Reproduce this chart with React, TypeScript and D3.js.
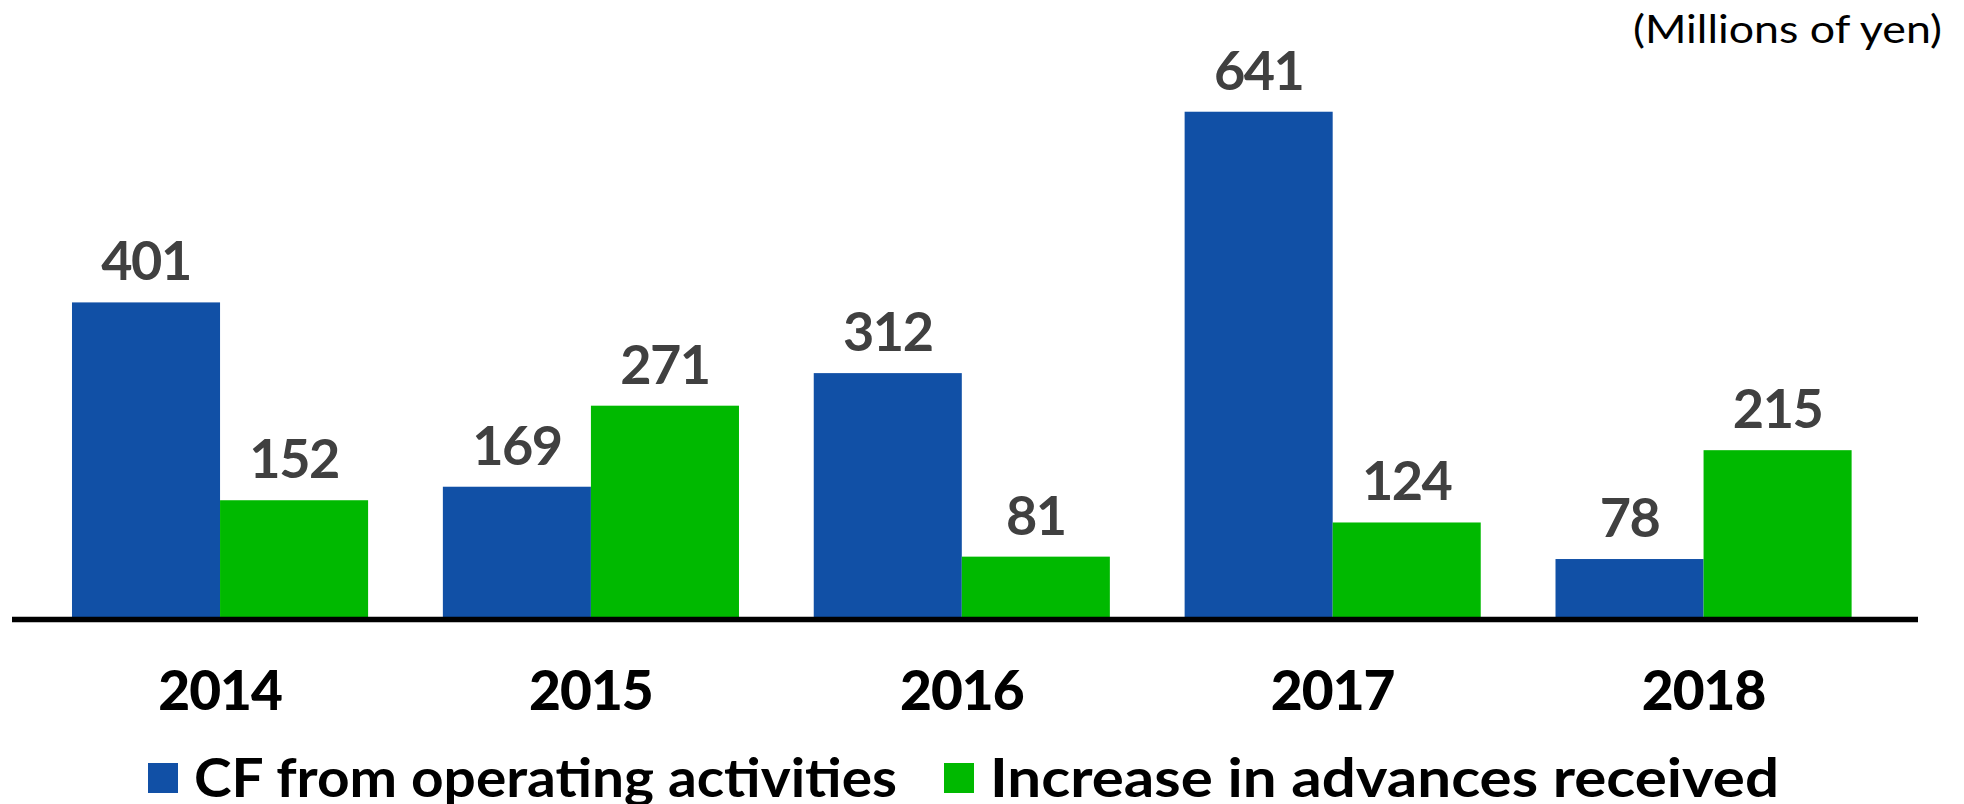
import React from "react";
import * as d3 from "d3";

const years = ["2014", "2015", "2016", "2017", "2018"];
const seriesNames = ["CF from operating activities", "Increase in advances received"];
const cfOperating = [401, 169, 312, 641, 78];
const advancesReceived = [152, 271, 81, 124, 215];
const seriesColors = ["#1150a6", "#00b900"];
const unitLabel = "(Millions of yen)";

const W = 1964;
const H = 804;
const FONT = "Lato, 'Open Sans', sans-serif";

export default function App() {
  const x = d3
    .scaleBand<string>()
    .domain(years)
    .range([34.9, 1888.7])
    .paddingInner(0.2016)
    .paddingOuter(0.1);
  const xs = d3.scaleBand<number>().domain([0, 1]).range([0, x.bandwidth()]).padding(0);
  const y = d3.scaleLinear().domain([0, 780]).range([621, 621 - 780 * 0.7945]);
  const series = [cfOperating, advancesReceived];
  const legendX = [148, 944];
  const legendLen = [703, 789];

  return (
    <svg
      width={W}
      height={H}
      style={{ position: "absolute", left: 0, top: 0, background: "#fff" }}
      fontFamily={FONT}
    >
      <rect x={0} y={0} width={W} height={H} fill="#fff" />
      <text
        x={1633}
        y={43}
        fontSize={39}
        fill="#000"
        textLength={309}
        lengthAdjust="spacingAndGlyphs"
      >
        {unitLabel}
      </text>
      {years.map((yr, i) => (
        <g key={yr}>
          {series.map((vals, s) => {
            const bx = (x(yr) as number) + (xs(s) as number);
            const top = y(vals[i]);
            return (
              <g key={s}>
                <rect
                  x={bx}
                  y={top}
                  width={xs.bandwidth()}
                  height={y(0) - top}
                  fill={seriesColors[s]}
                />
                <text
                  x={bx + xs.bandwidth() / 2}
                  y={top - 22}
                  textAnchor="middle"
                  fontSize={54}
                  fontWeight="bold"
                  fill="#404040"
                  letterSpacing={-1.5}
                >
                  {vals[i]}
                </text>
              </g>
            );
          })}
          <text
            x={(x(yr) as number) + x.bandwidth() / 2}
            y={710}
            textAnchor="middle"
            fontSize={55}
            fontWeight="900"
            fill="#000"
            letterSpacing={-1}
          >
            {yr}
          </text>
        </g>
      ))}
      <line x1={12} x2={1918} y1={619.5} y2={619.5} stroke="#000" strokeWidth={5.5} />
      {seriesNames.map((name, s) => {
        const lx = legendX[s];
        return (
          <g key={name}>
            <rect x={lx} y={763} width={30} height={30} fill={seriesColors[s]} />
            <text
              x={lx + 46}
              y={797}
              fontSize={54}
              fontWeight="bold"
              fill="#000"
              textLength={legendLen[s]}
              lengthAdjust="spacingAndGlyphs"
            >
              {name}
            </text>
          </g>
        );
      })}
    </svg>
  );
}
